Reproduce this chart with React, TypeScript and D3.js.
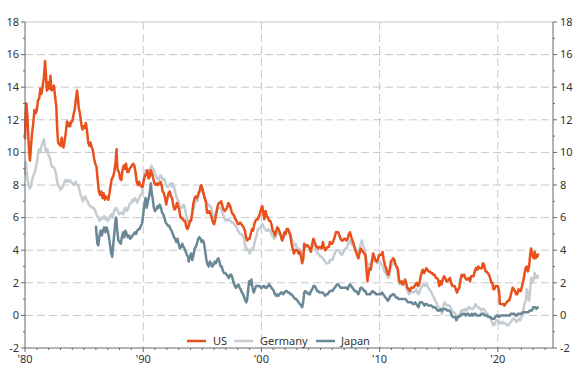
import React from 'react';
import * as d3 from 'd3';

type Pt = [number, number];

const usSeries: Pt[] = [
[1980.00,10.8],[1980.05,12.4],[1980.12,13.0],[1980.20,12.2],[1980.28,11.0],[1980.35,10.0],[1980.42,9.5],[1980.50,10.3],[1980.60,11.2],[1980.70,11.8],[1980.80,12.6],[1980.90,12.4],
[1981.00,12.6],[1981.10,13.2],[1981.20,13.3],[1981.30,13.9],[1981.40,13.6],[1981.50,14.1],[1981.60,14.6],[1981.70,15.6],[1981.75,15.0],[1981.85,13.8],[1981.92,13.9],
[1982.00,14.3],[1982.08,13.9],[1982.15,14.7],[1982.25,13.8],[1982.35,13.9],[1982.45,14.1],[1982.55,13.4],[1982.65,12.8],[1982.72,11.5],[1982.80,10.6],[1982.90,10.5],
[1983.00,10.4],[1983.10,10.9],[1983.18,10.5],[1983.25,10.3],[1983.35,10.7],[1983.45,11.2],[1983.55,11.9],[1983.62,11.6],[1983.72,11.8],[1983.82,11.6],[1983.90,11.9],
[1984.00,11.9],[1984.10,12.3],[1984.20,12.6],[1984.30,13.2],[1984.40,13.8],[1984.48,13.3],[1984.55,12.7],[1984.65,12.4],[1984.75,11.8],[1984.85,11.4],[1984.95,11.6],
[1985.05,11.5],[1985.15,11.8],[1985.25,11.3],[1985.35,10.6],[1985.45,10.4],[1985.55,10.6],[1985.65,10.3],[1985.75,10.1],[1985.85,9.6],[1985.95,9.3],
[1986.05,9.1],[1986.15,8.3],[1986.25,7.6],[1986.35,7.4],[1986.45,7.6],[1986.55,7.2],[1986.65,7.5],[1986.75,7.1],[1986.85,7.3],[1986.95,7.2],
[1987.05,7.1],[1987.15,7.5],[1987.25,8.0],[1987.35,8.4],[1987.45,8.5],[1987.55,8.8],[1987.65,9.3],[1987.75,10.2],[1987.80,9.2],[1987.85,8.9],[1987.95,8.8],
[1988.05,8.4],[1988.15,8.3],[1988.25,8.9],[1988.35,9.2],[1988.45,9.0],[1988.55,9.3],[1988.65,8.8],[1988.75,8.8],[1988.85,9.0],[1988.95,9.1],
[1989.05,9.2],[1989.15,9.3],[1989.25,9.2],[1989.35,8.8],[1989.45,8.2],[1989.55,8.0],[1989.65,8.2],[1989.75,8.0],[1989.85,7.9],[1989.95,7.9],
[1990.05,8.3],[1990.15,8.6],[1990.25,8.6],[1990.35,8.9],[1990.45,8.4],[1990.55,8.5],[1990.65,8.9],[1990.75,8.7],[1990.85,8.4],[1990.95,8.1],
[1991.05,8.0],[1991.15,8.1],[1991.25,8.0],[1991.35,8.1],[1991.45,8.2],[1991.55,8.0],[1991.65,7.6],[1991.75,7.5],[1991.85,7.2],[1991.95,6.8],
[1992.05,7.2],[1992.15,7.5],[1992.25,7.6],[1992.35,7.3],[1992.45,7.2],[1992.55,6.7],[1992.65,6.5],[1992.75,6.6],[1992.85,6.9],[1992.95,6.7],
[1993.05,6.5],[1993.15,6.0],[1993.25,6.0],[1993.35,5.9],[1993.45,5.8],[1993.55,5.8],[1993.65,5.4],[1993.75,5.3],[1993.85,5.5],[1993.95,5.8],
[1994.05,5.8],[1994.15,6.3],[1994.25,6.9],[1994.35,7.2],[1994.45,7.3],[1994.55,7.2],[1994.65,7.4],[1994.75,7.6],[1994.85,7.9],[1994.92,8.0],
[1995.00,7.8],[1995.10,7.5],[1995.20,7.2],[1995.30,7.0],[1995.40,6.3],[1995.50,6.3],[1995.60,6.4],[1995.70,6.2],[1995.80,6.0],[1995.90,5.7],
[1996.00,5.6],[1996.10,5.9],[1996.20,6.3],[1996.30,6.7],[1996.40,6.9],[1996.50,6.9],[1996.60,7.0],[1996.70,6.7],[1996.80,6.5],[1996.90,6.4],
[1997.00,6.5],[1997.10,6.6],[1997.20,6.9],[1997.30,6.8],[1997.40,6.6],[1997.50,6.3],[1997.60,6.2],[1997.70,6.1],[1997.80,5.9],[1997.90,5.8],
[1998.00,5.6],[1998.10,5.6],[1998.20,5.7],[1998.30,5.6],[1998.40,5.5],[1998.50,5.4],[1998.60,5.2],[1998.70,4.8],[1998.80,4.6],[1998.90,4.7],
[1999.00,4.7],[1999.10,5.0],[1999.20,5.3],[1999.30,5.2],[1999.40,5.6],[1999.50,5.8],[1999.60,5.9],[1999.70,5.9],[1999.80,6.1],[1999.90,6.3],
[2000.00,6.6],[2000.08,6.7],[2000.15,6.3],[2000.25,5.9],[2000.35,6.4],[2000.45,6.1],[2000.55,6.0],[2000.65,5.8],[2000.75,5.8],[2000.85,5.6],[2000.95,5.2],
[2001.05,5.1],[2001.15,4.9],[2001.25,5.2],[2001.35,5.4],[2001.45,5.3],[2001.55,5.1],[2001.65,4.9],[2001.75,4.6],[2001.85,4.8],[2001.95,5.1],
[2002.05,5.0],[2002.15,5.3],[2002.25,5.3],[2002.35,5.1],[2002.45,4.9],[2002.55,4.4],[2002.65,4.1],[2002.75,3.8],[2002.85,4.0],[2002.95,4.0],
[2003.05,4.0],[2003.15,3.8],[2003.25,3.9],[2003.35,3.6],[2003.45,3.2],[2003.55,3.5],[2003.62,4.4],[2003.70,4.2],[2003.80,4.3],[2003.90,4.3],
[2004.00,4.2],[2004.10,4.1],[2004.20,3.9],[2004.30,4.4],[2004.40,4.7],[2004.50,4.5],[2004.60,4.3],[2004.70,4.2],[2004.80,4.1],[2004.90,4.2],
[2005.00,4.2],[2005.10,4.1],[2005.20,4.5],[2005.30,4.2],[2005.40,4.0],[2005.50,4.1],[2005.60,4.2],[2005.70,4.2],[2005.80,4.5],[2005.90,4.4],
[2006.00,4.4],[2006.10,4.6],[2006.20,4.8],[2006.30,5.1],[2006.40,5.1],[2006.50,5.1],[2006.60,4.9],[2006.70,4.7],[2006.80,4.6],[2006.90,4.6],
[2007.00,4.7],[2007.10,4.7],[2007.20,4.6],[2007.30,4.7],[2007.40,5.0],[2007.50,5.1],[2007.60,4.8],[2007.70,4.6],[2007.80,4.4],[2007.90,4.1],
[2008.00,3.9],[2008.10,3.7],[2008.20,3.5],[2008.30,3.8],[2008.40,4.1],[2008.50,4.0],[2008.60,3.9],[2008.70,3.8],[2008.80,3.7],[2008.90,2.7],[2008.97,2.1],
[2009.05,2.5],[2009.15,2.9],[2009.25,2.8],[2009.35,3.3],[2009.45,3.8],[2009.55,3.6],[2009.65,3.4],[2009.75,3.3],[2009.85,3.4],[2009.95,3.7],
[2010.05,3.7],[2010.15,3.7],[2010.25,3.9],[2010.35,3.4],[2010.45,3.1],[2010.55,2.9],[2010.65,2.6],[2010.75,2.5],[2010.85,2.8],[2010.95,3.3],
[2011.05,3.4],[2011.15,3.5],[2011.25,3.4],[2011.35,3.1],[2011.45,3.0],[2011.55,2.8],[2011.65,2.1],[2011.75,2.0],[2011.85,2.1],[2011.95,1.9],
[2012.05,2.0],[2012.15,2.2],[2012.25,2.0],[2012.35,1.7],[2012.45,1.6],[2012.55,1.5],[2012.65,1.7],[2012.75,1.7],[2012.85,1.7],[2012.95,1.8],
[2013.05,1.9],[2013.15,2.0],[2013.25,1.8],[2013.35,1.9],[2013.45,2.3],[2013.55,2.6],[2013.65,2.8],[2013.75,2.6],[2013.85,2.7],[2013.95,2.9],
[2014.05,2.8],[2014.15,2.7],[2014.25,2.7],[2014.35,2.6],[2014.45,2.6],[2014.55,2.5],[2014.65,2.5],[2014.75,2.3],[2014.85,2.3],[2014.95,2.2],
[2015.05,1.8],[2015.15,2.1],[2015.25,1.9],[2015.35,2.2],[2015.45,2.4],[2015.55,2.3],[2015.65,2.1],[2015.75,2.1],[2015.85,2.2],[2015.95,2.3],
[2016.05,2.0],[2016.15,1.8],[2016.25,1.8],[2016.35,1.8],[2016.45,1.6],[2016.55,1.4],[2016.65,1.6],[2016.75,1.7],[2016.85,2.2],[2016.95,2.5],
[2017.05,2.4],[2017.15,2.5],[2017.25,2.3],[2017.35,2.2],[2017.45,2.2],[2017.55,2.3],[2017.65,2.1],[2017.75,2.4],[2017.85,2.4],[2017.95,2.4],
[2018.05,2.7],[2018.15,2.9],[2018.25,2.8],[2018.35,3.0],[2018.45,2.9],[2018.55,2.9],[2018.65,2.9],[2018.75,3.2],[2018.85,3.1],[2018.95,2.7],
[2019.05,2.7],[2019.15,2.6],[2019.25,2.5],[2019.35,2.3],[2019.45,2.0],[2019.55,2.0],[2019.62,1.6],[2019.70,1.6],[2019.80,1.8],[2019.90,1.8],
[2020.00,1.8],[2020.10,1.5],[2020.18,0.7],[2020.25,0.7],[2020.35,0.7],[2020.45,0.7],[2020.55,0.6],[2020.65,0.7],[2020.75,0.8],[2020.85,0.9],[2020.95,0.9],
[2021.05,1.1],[2021.15,1.4],[2021.25,1.7],[2021.35,1.6],[2021.45,1.5],[2021.55,1.3],[2021.65,1.3],[2021.75,1.6],[2021.85,1.5],[2021.95,1.5],
[2022.05,1.8],[2022.15,2.1],[2022.25,2.5],[2022.35,2.9],[2022.45,3.0],[2022.55,2.7],[2022.65,3.0],[2022.75,3.8],[2022.82,4.1],[2022.90,3.7],[2022.98,3.6],
[2023.05,3.5],[2023.12,3.9],[2023.20,3.5],[2023.28,3.7],[2023.35,3.6],[2023.42,3.8]
];

const germanySeries: Pt[] = [
[1980.00,8.6],[1980.05,9.4],[1980.12,9.1],[1980.20,8.4],[1980.30,8.0],[1980.40,7.8],[1980.50,7.9],[1980.60,8.3],[1980.70,8.6],[1980.80,8.7],[1980.90,9.0],
[1981.00,9.4],[1981.10,9.9],[1981.20,10.2],[1981.30,10.0],[1981.40,10.4],[1981.50,10.6],[1981.60,10.8],[1981.70,10.3],[1981.80,10.0],[1981.90,10.2],
[1982.00,9.8],[1982.10,9.7],[1982.20,9.3],[1982.30,9.1],[1982.40,9.1],[1982.50,9.0],[1982.60,8.8],[1982.70,8.3],[1982.80,8.0],[1982.90,7.9],
[1983.00,7.7],[1983.10,7.8],[1983.20,7.9],[1983.30,8.1],[1983.40,8.3],[1983.50,8.2],[1983.60,8.3],[1983.70,8.2],[1983.80,8.3],[1983.90,8.2],
[1984.00,8.1],[1984.10,8.0],[1984.20,8.1],[1984.30,8.2],[1984.40,8.0],[1984.50,8.0],[1984.60,7.7],[1984.70,7.4],[1984.80,7.2],[1984.90,7.0],
[1985.00,7.2],[1985.10,7.3],[1985.20,7.1],[1985.30,7.0],[1985.40,6.8],[1985.50,6.7],[1985.60,6.7],[1985.70,6.6],[1985.80,6.6],[1985.90,6.5],
[1986.00,6.3],[1986.10,6.1],[1986.20,6.0],[1986.30,5.8],[1986.40,6.0],[1986.50,5.9],[1986.60,6.0],[1986.70,6.1],[1986.80,5.9],[1986.90,6.0],
[1987.00,5.8],[1987.10,5.9],[1987.20,6.1],[1987.30,6.2],[1987.40,6.0],[1987.50,6.3],[1987.60,6.5],[1987.70,6.6],[1987.80,6.5],[1987.90,6.3],
[1988.00,6.2],[1988.10,6.3],[1988.20,6.3],[1988.30,6.2],[1988.40,6.5],[1988.50,6.6],[1988.60,6.4],[1988.70,6.5],[1988.80,6.7],[1988.90,6.9],
[1989.00,6.9],[1989.10,7.1],[1989.20,7.0],[1989.30,7.2],[1989.40,7.1],[1989.50,6.9],[1989.60,7.1],[1989.70,7.3],[1989.80,7.4],[1989.90,7.5],
[1990.00,8.0],[1990.10,8.7],[1990.20,8.9],[1990.30,8.8],[1990.40,8.9],[1990.50,8.7],[1990.60,9.0],[1990.70,9.2],[1990.80,9.0],[1990.90,8.9],
[1991.00,8.7],[1991.10,8.5],[1991.20,8.4],[1991.30,8.3],[1991.40,8.5],[1991.50,8.6],[1991.60,8.4],[1991.70,8.3],[1991.80,8.4],[1991.90,8.1],
[1992.00,7.9],[1992.10,7.9],[1992.20,8.0],[1992.30,8.1],[1992.40,7.9],[1992.50,8.1],[1992.60,7.9],[1992.70,7.6],[1992.80,7.3],[1992.90,7.1],
[1993.00,7.0],[1993.10,6.7],[1993.20,6.6],[1993.30,6.6],[1993.40,6.8],[1993.50,6.7],[1993.60,6.3],[1993.70,5.9],[1993.80,5.8],[1993.90,5.6],
[1994.00,5.8],[1994.10,6.1],[1994.20,6.5],[1994.30,6.6],[1994.40,7.0],[1994.50,7.1],[1994.60,7.0],[1994.70,7.5],[1994.80,7.6],[1994.90,7.7],
[1995.00,7.6],[1995.10,7.4],[1995.20,7.2],[1995.30,7.0],[1995.40,6.9],[1995.50,6.8],[1995.60,6.7],[1995.70,6.7],[1995.80,6.5],[1995.90,6.1],
[1996.00,6.0],[1996.10,6.2],[1996.20,6.4],[1996.30,6.6],[1996.40,6.6],[1996.50,6.6],[1996.60,6.5],[1996.70,6.3],[1996.80,6.1],[1996.90,5.9],
[1997.00,5.8],[1997.10,5.9],[1997.20,5.9],[1997.30,5.8],[1997.40,5.8],[1997.50,5.7],[1997.60,5.7],[1997.70,5.6],[1997.80,5.5],[1997.90,5.4],
[1998.00,5.2],[1998.10,5.1],[1998.20,5.0],[1998.30,5.0],[1998.40,4.9],[1998.50,4.8],[1998.60,4.4],[1998.70,4.0],[1998.80,4.1],[1998.90,4.0],
[1999.00,3.8],[1999.10,4.0],[1999.20,4.1],[1999.30,4.0],[1999.40,4.4],[1999.50,4.7],[1999.60,4.9],[1999.70,5.3],[1999.80,5.3],[1999.90,5.4],
[2000.00,5.5],[2000.10,5.6],[2000.20,5.4],[2000.30,5.3],[2000.40,5.2],[2000.50,5.2],[2000.60,5.3],[2000.70,5.2],[2000.80,5.1],[2000.90,4.9],
[2001.00,4.8],[2001.10,4.7],[2001.20,4.8],[2001.30,5.0],[2001.40,5.1],[2001.50,5.0],[2001.60,4.9],[2001.70,4.7],[2001.80,4.6],[2001.90,4.8],
[2002.00,5.0],[2002.10,5.1],[2002.20,5.3],[2002.30,5.2],[2002.40,5.1],[2002.50,4.9],[2002.60,4.6],[2002.70,4.4],[2002.80,4.3],[2002.90,4.4],
[2003.00,4.1],[2003.10,4.0],[2003.20,4.1],[2003.30,4.0],[2003.40,3.7],[2003.50,3.6],[2003.60,4.0],[2003.70,4.2],[2003.80,4.3],[2003.90,4.3],
[2004.00,4.2],[2004.10,4.0],[2004.20,4.1],[2004.30,4.3],[2004.40,4.3],[2004.50,4.2],[2004.60,4.0],[2004.70,3.9],[2004.80,3.8],[2004.90,3.7],
[2005.00,3.6],[2005.10,3.6],[2005.20,3.5],[2005.30,3.4],[2005.40,3.3],[2005.50,3.2],[2005.60,3.2],[2005.70,3.2],[2005.80,3.4],[2005.90,3.4],
[2006.00,3.4],[2006.10,3.6],[2006.20,3.8],[2006.30,4.0],[2006.40,4.0],[2006.50,4.0],[2006.60,3.9],[2006.70,3.8],[2006.80,3.7],[2006.90,3.8],
[2007.00,4.0],[2007.10,4.1],[2007.20,4.1],[2007.30,4.3],[2007.40,4.5],[2007.50,4.6],[2007.60,4.4],[2007.70,4.3],[2007.80,4.3],[2007.90,4.2],
[2008.00,4.1],[2008.10,3.9],[2008.20,3.9],[2008.30,4.1],[2008.40,4.4],[2008.50,4.6],[2008.60,4.3],[2008.70,4.1],[2008.80,3.8],[2008.90,3.3],
[2009.00,3.0],[2009.10,3.1],[2009.20,3.1],[2009.30,3.3],[2009.40,3.5],[2009.50,3.4],[2009.60,3.3],[2009.70,3.3],[2009.80,3.2],[2009.90,3.3],
[2010.00,3.3],[2010.10,3.2],[2010.20,3.1],[2010.30,3.0],[2010.40,2.7],[2010.50,2.6],[2010.60,2.5],[2010.70,2.3],[2010.80,2.4],[2010.90,2.9],
[2011.00,3.0],[2011.10,3.2],[2011.20,3.3],[2011.30,3.2],[2011.40,3.0],[2011.50,2.8],[2011.60,2.3],[2011.70,1.9],[2011.80,2.0],[2011.90,1.9],
[2012.00,1.9],[2012.10,1.9],[2012.20,1.8],[2012.30,1.6],[2012.40,1.4],[2012.50,1.3],[2012.60,1.4],[2012.70,1.5],[2012.80,1.4],[2012.90,1.4],
[2013.00,1.5],[2013.10,1.6],[2013.20,1.4],[2013.30,1.3],[2013.40,1.5],[2013.50,1.7],[2013.60,1.8],[2013.70,1.9],[2013.80,1.8],[2013.90,1.9],
[2014.00,1.9],[2014.10,1.7],[2014.20,1.6],[2014.30,1.5],[2014.40,1.4],[2014.50,1.2],[2014.60,1.1],[2014.70,0.9],[2014.80,0.8],[2014.90,0.6],
[2015.00,0.5],[2015.10,0.3],[2015.20,0.2],[2015.30,0.1],[2015.40,0.6],[2015.50,0.8],[2015.60,0.7],[2015.70,0.6],[2015.80,0.6],[2015.90,0.6],
[2016.00,0.5],[2016.10,0.3],[2016.20,0.2],[2016.30,0.2],[2016.40,0.1],[2016.50,-0.1],[2016.60,-0.1],[2016.70,0.0],[2016.80,0.1],[2016.90,0.3],
[2017.00,0.3],[2017.10,0.3],[2017.20,0.4],[2017.30,0.3],[2017.40,0.3],[2017.50,0.5],[2017.60,0.5],[2017.70,0.4],[2017.80,0.4],[2017.90,0.4],
[2018.00,0.5],[2018.10,0.7],[2018.20,0.6],[2018.30,0.5],[2018.40,0.5],[2018.50,0.4],[2018.60,0.3],[2018.70,0.4],[2018.80,0.4],[2018.90,0.3],
[2019.00,0.2],[2019.10,0.1],[2019.20,0.0],[2019.30,-0.1],[2019.40,-0.2],[2019.50,-0.4],[2019.60,-0.6],[2019.70,-0.6],[2019.80,-0.4],[2019.90,-0.3],
[2020.00,-0.3],[2020.10,-0.5],[2020.20,-0.4],[2020.30,-0.5],[2020.40,-0.4],[2020.50,-0.5],[2020.60,-0.5],[2020.70,-0.5],[2020.80,-0.6],[2020.90,-0.6],
[2021.00,-0.5],[2021.10,-0.4],[2021.20,-0.3],[2021.30,-0.2],[2021.40,-0.2],[2021.50,-0.3],[2021.60,-0.4],[2021.70,-0.3],[2021.80,-0.2],[2021.90,-0.3],
[2022.00,-0.1],[2022.10,0.1],[2022.20,0.5],[2022.30,0.8],[2022.40,1.0],[2022.45,1.6],[2022.55,1.2],[2022.65,0.9],[2022.75,1.7],[2022.82,2.3],[2022.90,2.0],[2022.98,2.1],
[2023.05,2.3],[2023.12,2.6],[2023.20,2.3],[2023.28,2.4],[2023.35,2.3],[2023.42,2.5]
];

const japanSeries: Pt[] = [
[1986.00,5.5],[1986.05,5.0],[1986.12,4.4],[1986.20,4.3],[1986.30,4.9],[1986.40,5.2],[1986.50,4.9],[1986.60,5.2],[1986.70,5.4],[1986.80,5.1],[1986.90,5.4],
[1987.00,5.2],[1987.10,4.8],[1987.20,4.3],[1987.30,3.8],[1987.38,3.6],[1987.45,4.2],[1987.55,5.0],[1987.65,5.8],[1987.72,6.0],[1987.80,5.2],[1987.90,4.6],
[1988.00,4.5],[1988.10,4.4],[1988.20,4.8],[1988.30,5.1],[1988.40,4.8],[1988.50,5.2],[1988.60,5.0],[1988.70,4.8],[1988.80,4.9],[1988.90,4.7],
[1989.00,4.8],[1989.10,4.9],[1989.20,5.0],[1989.30,5.1],[1989.40,5.0],[1989.50,5.2],[1989.60,5.3],[1989.70,5.3],[1989.80,5.5],[1989.90,5.6],
[1990.00,6.2],[1990.10,6.8],[1990.20,7.2],[1990.30,6.6],[1990.40,7.0],[1990.50,7.3],[1990.60,7.8],[1990.65,8.1],[1990.70,7.6],[1990.80,7.2],[1990.90,6.6],
[1991.00,6.4],[1991.10,6.5],[1991.20,6.7],[1991.30,6.6],[1991.40,6.8],[1991.50,6.6],[1991.60,6.3],[1991.70,6.2],[1991.80,6.0],[1991.90,5.7],
[1992.00,5.6],[1992.10,5.5],[1992.20,5.5],[1992.30,5.3],[1992.40,5.2],[1992.50,5.0],[1992.60,4.8],[1992.70,4.7],[1992.80,4.5],[1992.90,4.7],
[1993.00,4.4],[1993.10,4.1],[1993.20,4.2],[1993.30,4.4],[1993.40,4.2],[1993.50,4.1],[1993.60,3.9],[1993.70,3.7],[1993.80,3.6],[1993.85,3.3],[1993.95,3.6],
[1994.05,3.8],[1994.15,3.4],[1994.25,3.7],[1994.35,4.1],[1994.45,4.2],[1994.55,4.4],[1994.65,4.7],[1994.75,4.8],[1994.85,4.7],[1994.95,4.5],
[1995.05,4.6],[1995.15,4.4],[1995.25,3.9],[1995.35,3.4],[1995.45,3.1],[1995.55,3.0],[1995.65,3.3],[1995.75,3.2],[1995.85,3.0],[1995.95,3.1],
[1996.05,3.3],[1996.15,3.2],[1996.25,3.4],[1996.35,3.5],[1996.45,3.3],[1996.55,3.0],[1996.65,3.0],[1996.75,2.7],[1996.85,2.6],[1996.95,2.6],
[1997.05,2.5],[1997.15,2.4],[1997.25,2.3],[1997.35,2.5],[1997.45,2.5],[1997.55,2.3],[1997.65,2.0],[1997.75,1.8],[1997.85,1.7],[1997.95,1.8],
[1998.05,1.9],[1998.15,1.7],[1998.25,1.6],[1998.35,1.4],[1998.45,1.3],[1998.55,1.1],[1998.65,0.9],[1998.72,0.8],[1998.80,1.0],[1998.90,1.7],[1998.97,2.1],
[1999.05,1.9],[1999.15,2.2],[1999.25,1.7],[1999.35,1.4],[1999.45,1.6],[1999.55,1.8],[1999.65,1.8],[1999.75,1.8],[1999.85,1.8],[1999.95,1.7],
[2000.05,1.7],[2000.15,1.8],[2000.25,1.8],[2000.35,1.7],[2000.45,1.7],[2000.55,1.8],[2000.65,1.9],[2000.75,1.8],[2000.85,1.7],[2000.95,1.6],
[2001.05,1.5],[2001.15,1.3],[2001.25,1.2],[2001.35,1.3],[2001.45,1.2],[2001.55,1.3],[2001.65,1.4],[2001.75,1.4],[2001.85,1.3],[2001.95,1.4],
[2002.05,1.5],[2002.15,1.5],[2002.25,1.4],[2002.35,1.4],[2002.45,1.3],[2002.55,1.3],[2002.65,1.2],[2002.75,1.1],[2002.85,1.0],[2002.95,1.0],
[2003.05,0.9],[2003.15,0.8],[2003.25,0.7],[2003.35,0.6],[2003.45,0.5],[2003.55,0.9],[2003.62,1.4],[2003.72,1.5],[2003.80,1.4],[2003.90,1.4],
[2004.00,1.3],[2004.10,1.3],[2004.20,1.5],[2004.30,1.6],[2004.40,1.8],[2004.50,1.8],[2004.60,1.7],[2004.70,1.5],[2004.80,1.5],[2004.90,1.4],
[2005.00,1.4],[2005.10,1.4],[2005.20,1.4],[2005.30,1.3],[2005.40,1.2],[2005.50,1.3],[2005.60,1.3],[2005.70,1.4],[2005.80,1.5],[2005.90,1.5],
[2006.00,1.5],[2006.10,1.6],[2006.20,1.7],[2006.30,1.8],[2006.40,1.9],[2006.50,1.9],[2006.60,1.8],[2006.70,1.7],[2006.80,1.7],[2006.90,1.7],
[2007.00,1.7],[2007.10,1.7],[2007.20,1.7],[2007.30,1.6],[2007.40,1.8],[2007.50,1.9],[2007.60,1.8],[2007.70,1.7],[2007.80,1.6],[2007.90,1.5],
[2008.00,1.5],[2008.10,1.4],[2008.20,1.3],[2008.30,1.5],[2008.40,1.7],[2008.50,1.7],[2008.60,1.6],[2008.70,1.5],[2008.80,1.5],[2008.90,1.3],
[2009.00,1.3],[2009.10,1.3],[2009.20,1.3],[2009.30,1.4],[2009.40,1.5],[2009.50,1.4],[2009.60,1.4],[2009.70,1.3],[2009.80,1.3],[2009.90,1.3],
[2010.00,1.3],[2010.10,1.3],[2010.20,1.4],[2010.30,1.3],[2010.40,1.2],[2010.50,1.1],[2010.60,1.0],[2010.70,0.9],[2010.80,1.0],[2010.90,1.2],
[2011.00,1.2],[2011.10,1.3],[2011.20,1.3],[2011.30,1.2],[2011.40,1.1],[2011.50,1.1],[2011.60,1.0],[2011.70,1.0],[2011.80,1.0],[2011.90,1.0],
[2012.00,1.0],[2012.10,1.0],[2012.20,1.0],[2012.30,0.9],[2012.40,0.8],[2012.50,0.8],[2012.60,0.8],[2012.70,0.8],[2012.80,0.7],[2012.90,0.7],
[2013.00,0.8],[2013.10,0.7],[2013.20,0.6],[2013.30,0.5],[2013.40,0.8],[2013.50,0.8],[2013.60,0.8],[2013.70,0.7],[2013.80,0.6],[2013.90,0.7],
[2014.00,0.7],[2014.10,0.6],[2014.20,0.6],[2014.30,0.6],[2014.40,0.6],[2014.50,0.5],[2014.60,0.5],[2014.70,0.5],[2014.80,0.4],[2014.90,0.3],
[2015.00,0.3],[2015.10,0.3],[2015.20,0.4],[2015.30,0.3],[2015.40,0.4],[2015.50,0.4],[2015.60,0.4],[2015.70,0.3],[2015.80,0.3],[2015.90,0.3],
[2016.00,0.2],[2016.10,0.0],[2016.20,-0.1],[2016.30,-0.1],[2016.40,-0.1],[2016.50,-0.3],[2016.60,-0.1],[2016.70,-0.1],[2016.80,0.0],[2016.90,0.0],
[2017.00,0.1],[2017.10,0.1],[2017.20,0.1],[2017.30,0.0],[2017.40,0.1],[2017.50,0.1],[2017.60,0.0],[2017.70,0.0],[2017.80,0.1],[2017.90,0.0],
[2018.00,0.1],[2018.10,0.1],[2018.20,0.0],[2018.30,0.0],[2018.40,0.0],[2018.50,0.0],[2018.60,0.1],[2018.70,0.1],[2018.80,0.1],[2018.90,0.0],
[2019.00,0.0],[2019.10,0.0],[2019.20,-0.1],[2019.30,-0.1],[2019.40,-0.1],[2019.50,-0.2],[2019.60,-0.2],[2019.70,-0.2],[2019.80,-0.1],[2019.90,0.0],
[2020.00,0.0],[2020.10,-0.1],[2020.20,0.0],[2020.30,0.0],[2020.40,0.0],[2020.50,0.0],[2020.60,0.0],[2020.70,0.0],[2020.80,0.0],[2020.90,0.0],
[2021.00,0.0],[2021.10,0.1],[2021.20,0.1],[2021.30,0.1],[2021.40,0.1],[2021.50,0.0],[2021.60,0.0],[2021.70,0.1],[2021.80,0.1],[2021.90,0.1],
[2022.00,0.1],[2022.10,0.2],[2022.20,0.2],[2022.30,0.2],[2022.40,0.2],[2022.50,0.2],[2022.60,0.2],[2022.70,0.3],[2022.80,0.3],[2022.90,0.3],
[2022.98,0.5],[2023.05,0.5],[2023.15,0.5],[2023.25,0.4],[2023.35,0.5],[2023.42,0.4]
];

const yTickValues = [-2, 0, 2, 4, 6, 8, 10, 12, 14, 16, 18];
const yMinorValues = [-1, 1, 3, 5, 7, 9, 11, 13, 15, 17];
const xTickYears = [1980, 1990, 2000, 2010, 2020];
const xTickLabels = ["'80", "'90", "'00", "'10", "'20"];
const xMinorYears = d3.range(1981, 2025).filter((yr) => yr % 10 !== 0);
const seriesNames = ['US', 'Germany', 'Japan'];
const seriesColors = ['#E8511C', '#C6CDD2', '#6A8796'];

const FONT = "'Noto Sans', 'DejaVu Sans', sans-serif";

export default function App() {
  const left = 25, right = 553, top = 22, bottom = 348;
  const x = d3.scaleLinear().domain([1980, 2024.67]).range([left, right]);
  const y = d3.scaleLinear().domain([-2, 18]).range([bottom, top]);
  const line = d3.line<Pt>().x((d) => x(d[0])).y((d) => y(d[1]));
  const grid = '#c8c8c8';
  const axis = '#666';
  const text = '#333';
  const drawOrder = [
    { data: germanySeries, color: seriesColors[1] },
    { data: usSeries, color: seriesColors[0] },
    { data: japanSeries, color: seriesColors[2] },
  ];
  const legendX = [187, 234, 316];
  const legendTextX = [213, 260, 341];
  const legendY = 341;

  return (
    <svg width={580} height={376} style={{ position: 'absolute', left: 0, top: 0, background: '#fff' }} fontFamily={FONT}>
      {yTickValues.filter((v) => v > -2).map((v) => (
        <line key={'hg' + v} x1={left} x2={right} y1={y(v)} y2={y(v)} stroke={grid} strokeWidth={1}
          strokeDasharray={v === 18 ? undefined : '8,4'} />
      ))}
      {xTickYears.filter((yr) => yr > 1980).map((yr) => (
        <line key={'vg' + yr} x1={x(yr)} x2={x(yr)} y1={top} y2={bottom} stroke={grid} strokeWidth={1} strokeDasharray="8,4" />
      ))}
      {drawOrder.map((s, i) => (
        <path key={'s' + i} d={line(s.data) || ''} fill="none" stroke={s.color} strokeWidth={2.5} strokeLinejoin="round" />
      ))}
      <line x1={left} x2={left} y1={top} y2={bottom} stroke={axis} strokeWidth={1} />
      <line x1={right} x2={right} y1={top} y2={bottom} stroke={axis} strokeWidth={1} />
      <line x1={left} x2={right} y1={bottom} y2={bottom} stroke={axis} strokeWidth={1} />
      {yTickValues.map((v) => (
        <g key={'yt' + v}>
          <line x1={left - 4} x2={left} y1={y(v)} y2={y(v)} stroke={axis} />
          <line x1={right} x2={right + 4} y1={y(v)} y2={y(v)} stroke={axis} />
          <text x={left - 6} y={y(v)} dy="0.35em" textAnchor="end" fontSize={11} fill={text}>{v}</text>
          <text x={right + 7} y={y(v)} dy="0.35em" textAnchor="start" fontSize={11} fill={text}>{v}</text>
        </g>
      ))}
      {yMinorValues.map((v) => (
        <g key={'ym' + v}>
          <line x1={left - 2} x2={left} y1={y(v)} y2={y(v)} stroke={axis} />
          <line x1={right} x2={right + 2} y1={y(v)} y2={y(v)} stroke={axis} />
        </g>
      ))}
      {xTickYears.map((yr, i) => (
        <g key={'xt' + yr}>
          <line x1={x(yr)} x2={x(yr)} y1={bottom} y2={bottom + 4} stroke={axis} />
          <text x={x(yr)} y={bottom + 15} textAnchor="middle" fontSize={11} fill={text}>{xTickLabels[i]}</text>
        </g>
      ))}
      {xMinorYears.map((yr) => (
        <line key={'xm' + yr} x1={x(yr)} x2={x(yr)} y1={bottom} y2={bottom + 2} stroke={axis} />
      ))}
      {seriesNames.map((name, i) => (
        <g key={'lg' + name}>
          <line x1={legendX[i]} x2={legendX[i] + 19} y1={legendY} y2={legendY} stroke={seriesColors[i]} strokeWidth={2.5} />
          <text x={legendTextX[i]} y={legendY} dy="0.35em" fontSize={11} fill={text}>{name}</text>
        </g>
      ))}
    </svg>
  );
}
